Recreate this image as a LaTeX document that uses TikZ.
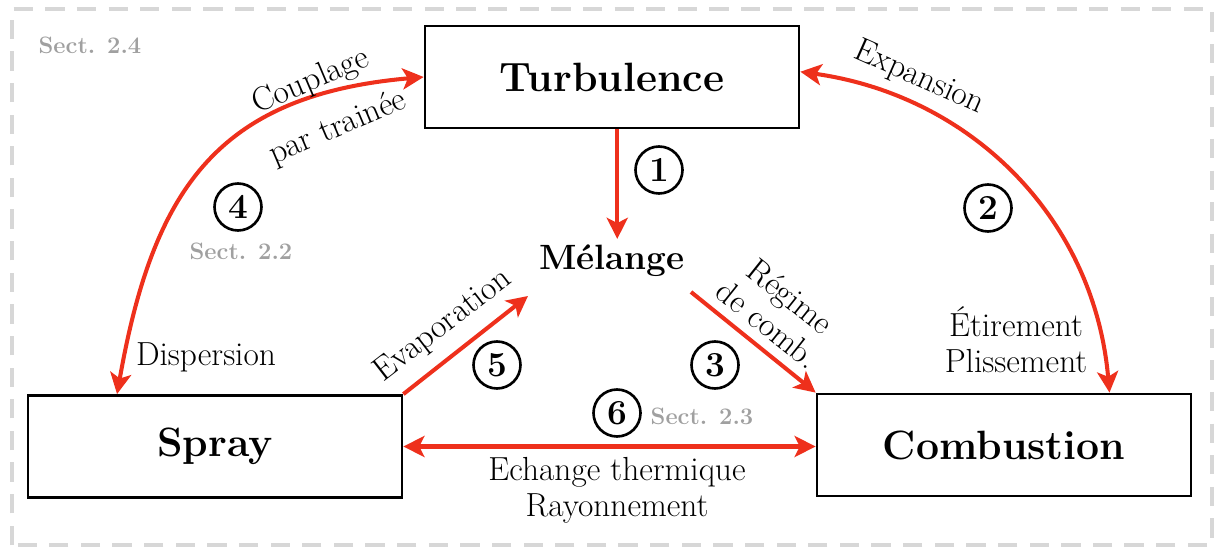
\documentclass[tikz,border=0pt]{standalone}
\usepackage{tikz}
\usetikzlibrary{arrows.meta,calc,positioning}
\definecolor{flowred}{RGB}{238,48,28}
\definecolor{sectgray}{RGB}{160,160,160}
\definecolor{framegray}{RGB}{215,215,215}

\begin{document}
\begin{tikzpicture}[x=0.02cm, y=0.02cm,
    box/.style = {draw, line width=1.6pt, minimum width=7.48cm, minimum height=2.04cm, font=\fontsize{23.3}{27}\selectfont\bfseries},
    num/.style = {draw, circle, line width=1.5pt, minimum size=0.94cm, inner sep=0pt, font=\fontsize{20}{22}\selectfont\bfseries},
    sect/.style = {text=sectgray, font=\fontsize{13.5}{15}\selectfont\bfseries},
    lbl/.style = {font=\fontsize{19}{20.5}\selectfont, align=center, inner sep=0pt},
    flow/.style = {draw=flowred, line width=2.3pt, >={Stealth[length=12pt, width=12pt, inset=3pt]}}]
      \useasboundingbox (0,0) rectangle (1214,548);
      \draw [framegray, line width=2.8pt, dash pattern=on 11pt off 7pt] (12,3) rectangle (1212,539);

      \node [box] (turb) at (612, 471) {Turbulence};
      \node [box] (spray) at (215, 101.5) {Spray};
      \node [box] (comb) at (1004, 103) {Combustion};
      \node [font=\fontsize{20}{23}\selectfont\bfseries] (mel) at (612, 287) {Mélange};

      \coordinate (evap) at (528, 252);
      \coordinate (regime) at (691, 256);

      \draw [flow, ->] ([xshift=3pt]turb.south) -- ([xshift=3pt]mel.north);
      \draw [flow, ->] (spray.north east) -- (evap);
      \draw [flow, ->] (regime) -- (comb.north west);
      \draw [flow, <->] (spray.east) -- (spray.east -| comb.west);
      \draw [flow, <->] ($ (spray.north west)!0.24!(spray.north east) $) to[out=80, in=185, looseness=1.2] (turb.west);
      \draw [flow, <->] ([yshift=3pt]turb.east) to[out=-8, in=95] ($ (comb.north west)!0.78!(comb.north east) $);

      \node [lbl, rotate=23] (coupl) at (311, 466) {Couplage};
      \node [lbl, rotate=23] (trainee) at (338, 420) {par trainée};
      \node [lbl, rotate=-24] (expan) at (919, 470) {Expansion};
      \node [lbl] (etir) at (1016, 208) {Étirement\\Plissement};
      \node [lbl] (disp) at (206, 191) {Dispersion};
      \node [lbl, rotate=37.7] (evapl) at (443, 222) {Evaporation};
      \node [lbl, rotate=-38.5] (regl) at (779, 238) {Régime\\de comb.};
      \node [lbl] (echg) at (617, 58) {Echange thermique\\Rayonnement};

      \node [num] (n1) at (659, 378) {1};
      \node [num] (n2) at (988, 340) {2};
      \node [num] (n3) at (715, 183) {3};
      \node [num] (n4) at (238, 341) {4};
      \node [num] (n5) at (497, 183) {5};
      \node [num] (n6) at (617, 135) {6};

      \node [sect] (s24) at (90, 503) {Sect. 2.4};
      \node [sect] (s22) at (241, 297) {Sect. 2.2};
      \node [sect] (s23) at (702, 132) {Sect. 2.3};
\end{tikzpicture}
\end{document}
